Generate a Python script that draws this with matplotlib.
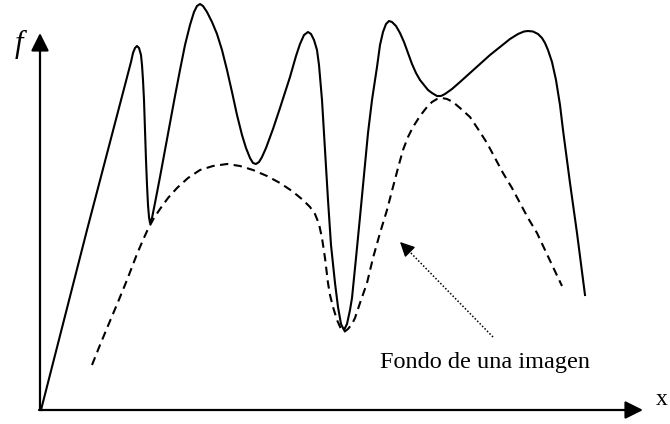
import matplotlib
matplotlib.use('Agg')
import matplotlib.pyplot as plt

# gray-level profile f(x) along one image row (solid) and the image background (dashed)
# x in pixels along the row, f as height above the x axis
profile_x = [41, 87, 131, 133, 135, 137, 139, 141, 142, 143, 144, 145, 146, 147, 148, 149,
             150, 152, 155, 160, 165, 170, 175, 180, 185, 190, 194, 197, 200, 203, 207, 212,
             217, 222, 227, 232, 237, 242, 246, 250, 253, 256, 259, 262, 266, 273, 280, 290, 296,
             300, 304, 308, 311, 314, 317, 319, 322, 325, 328, 331, 335, 338, 341, 344, 347,
             350, 352, 356, 360, 364, 368, 372, 377, 380, 383, 386, 389, 392, 396, 400, 404,
             408, 412, 416, 420, 424, 428, 432, 437, 441, 445, 452, 460, 470, 480, 490, 500,
             510, 518, 524, 528, 533, 538, 542, 545, 548, 552, 556, 560, 563, 570, 577, 585]
profile_f = [0, 180, 348, 357, 362, 364, 362, 355, 345, 330, 310, 280, 250, 225, 205, 193,
             187, 192, 207, 233, 260, 287, 314, 340, 365, 385, 398, 404, 406, 404, 398, 388,
             376, 360, 340, 318, 295, 275, 262, 252, 247, 246, 248, 253, 262, 281, 302, 333, 354,
             366, 375, 378, 376, 370, 360, 345, 310, 260, 210, 165, 127, 103, 86, 80, 86,
             100, 112, 152, 193, 235, 277, 310, 343, 365, 378, 386, 389, 388, 384, 377, 368,
             357, 346, 337, 330, 325, 320, 317, 314, 314, 316, 321, 328, 337, 346, 355, 363,
             371, 376, 378.5, 379, 378.5, 376, 372, 367, 360, 348, 330, 305, 280, 227, 177, 115]

background_x = [92, 100, 110, 118, 127, 137, 143, 148, 154, 160, 168, 177, 188, 200, 213, 227,
                240, 253, 267, 280, 292, 303, 310, 315, 319, 322, 325, 328, 330, 333, 337, 341,
                344, 348, 352, 355, 360, 367, 373, 380, 387, 393, 398, 403, 408, 413, 420, 427,
                432, 437, 442, 447, 453, 460, 470, 478, 487, 495, 503, 512, 520, 528, 537, 545,
                553, 562]
background_f = [45, 65, 89, 108, 130, 156, 170, 181, 192, 201, 212, 222, 232, 240, 244, 246,
                244, 240, 234, 227, 219, 210, 203, 196, 186, 172, 152, 127, 115, 103, 90, 81,
                78, 81, 86, 92, 107, 127, 152, 177, 200, 223, 242, 260, 273, 283, 294, 303,
                308, 311, 312, 311, 308, 302, 293, 281, 267, 252, 237, 222, 207, 192, 177, 160,
                143, 124]

fig = plt.figure(figsize=(6.7, 4.24), dpi=100)
ax = fig.add_axes([0, 0, 1, 1])
ax.set_xlim(0, 670)
ax.set_ylim(-14, 410)
ax.axis('off')

ax.plot(profile_x, profile_f, color='black', lw=1.5, solid_joinstyle='round')
ax.plot(background_x, background_f, color='black', lw=1.5, linestyle=(0, (4, 2.6)))

# axes with arrow heads
axis_arrow = dict(arrowstyle='-|>', color='black', lw=1.6, mutation_scale=27,
                  shrinkA=0, shrinkB=0)
ax.annotate('', xy=(643, 0), xytext=(39, 0), arrowprops=axis_arrow)
ax.annotate('', xy=(40, 377), xytext=(40, 0), arrowprops=axis_arrow)

ax.text(19, 366, 'f', fontsize=22, family='Liberation Serif', style='italic',
        ha='center', va='center')
ax.text(656, 5, 'x', fontsize=17, family='Liberation Serif', ha='left', va='baseline')

# dotted pointer to the background curve
ax.plot([493, 406], [73, 162], color='black', lw=1.1, linestyle=(0, (1, 1.3)))
ax.annotate('', xy=(400, 168), xytext=(409, 159),
            arrowprops=dict(arrowstyle='-|>', color='black', lw=1, mutation_scale=22,
                            shrinkA=0, shrinkB=0))
ax.text(380, 42, 'Fondo de una imagen', fontsize=17.5, family='Liberation Serif',
        ha='left', va='baseline')

plt.savefig('out.png', dpi=100)
